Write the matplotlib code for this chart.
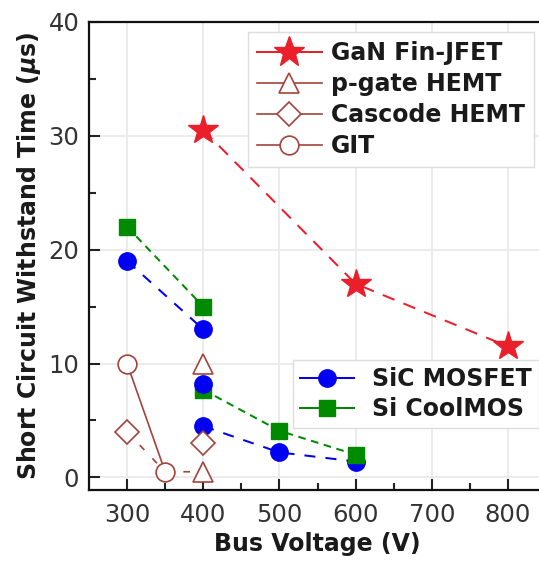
import matplotlib
matplotlib.use('Agg')
import matplotlib.pyplot as plt
from matplotlib.lines import Line2D

plt.rcParams['font.family'] = ['DejaVu Sans']
plt.rcParams['mathtext.fontset'] = 'custom'
plt.rcParams['mathtext.it'] = 'DejaVu Sans:bold:italic'
plt.rcParams['mathtext.rm'] = 'DejaVu Sans:bold'
plt.rcParams['mathtext.bf'] = 'DejaVu Sans:bold'

# ---------------- data ----------------
gan_x = [400, 600, 800]
gan_y = [30.5, 17.0, 11.5]
pgate_x = [400, 400]
pgate_y = [10.0, 0.5]
cascode_x = [300, 400]
cascode_y = [4.0, 3.0]
cascode_link_x = [300, 350, 400]
cascode_link_y = [4.0, 0.5, 0.5]
git_x = [300, 350]
git_y = [10.0, 0.5]
sic_x = [300, 400, 400, 400, 500, 600]
sic_y = [19.0, 13.0, 8.2, 4.5, 2.2, 1.4]
cool_x = [300, 400, 400, 500, 600]
cool_y = [22.0, 15.0, 7.7, 4.1, 2.0]
sic_runs = [[0, 1], [3, 4, 5]]
cool_runs = [[0, 1], [2, 3, 4]]
x_ticks = [300, 400, 500, 600, 700, 800]
y_ticks = [0, 10, 20, 30, 40]
labels_top = ['GaN Fin-JFET', 'p-gate HEMT', 'Cascode HEMT', 'GIT']
labels_bottom = ['SiC MOSFET', 'Si CoolMOS']

RED = '#ea1f2a'
BROWN = '#a3433a'
BLUE = '#0000f2'
GREEN = '#008a00'

W, H = 539, 562
fig = plt.figure(figsize=(W / 100, H / 100), dpi=100)
ax = fig.add_axes([89 / W, 72 / H, 457 / W, (490 - 21.7) / H])

lw = 1.45
mew = 1.2
# lines
ax.plot(gan_x, gan_y, color=RED, lw=lw, ls=(0, (6.3, 4.8)), zorder=2)
ax.plot(git_x, git_y, color=BROWN, lw=1.2, ls='-', zorder=2)
ax.plot(cascode_link_x, cascode_link_y, color=BROWN, lw=1.2, ls=(0, (4, 7)), zorder=2)
for run in sic_runs:
    ax.plot([sic_x[i] for i in run], [sic_y[i] for i in run], color=BLUE, lw=lw,
            ls=(0, (5.5, 5)), zorder=2)
for run in cool_runs:
    ax.plot([cool_x[i] for i in run], [cool_y[i] for i in run], color=GREEN, lw=lw,
            ls=(0, (3.8, 2.8)), zorder=2)

# markers
ax.plot(gan_x, gan_y, ls='none', marker='*', ms=22, color=RED, mec=RED, zorder=6)
ax.plot(pgate_x, pgate_y, ls='none', marker='^', ms=15, mfc='white', mec=BROWN, mew=mew, zorder=6)
ax.plot(cascode_x, cascode_y, ls='none', marker='D', ms=12, mfc='white', mec=BROWN, mew=mew, zorder=6)
ax.plot(git_x, git_y, ls='none', marker='o', ms=13.5, mfc='white', mec=BROWN, mew=mew, zorder=6)
ax.plot([sic_x[i] for i in (0, 1, 3, 4, 5)], [sic_y[i] for i in (0, 1, 3, 4, 5)],
        ls='none', marker='o', ms=12.5, color=BLUE, zorder=3)
ax.plot(cool_x, cool_y, ls='none', marker='s', ms=11.5, color=GREEN, zorder=4)
ax.plot([sic_x[2]], [sic_y[2]], ls='none', marker='o', ms=12.5, color=BLUE, zorder=5)

ax.set_xlim(250, 850)
ax.set_ylim(-1.1, 40)
ax.set_xticks(x_ticks)
ax.set_yticks(y_ticks)
ax.set_xticks([350, 450, 550, 650, 750], minor=True)
ax.set_yticks([5, 15, 25, 35], minor=True)
ax.tick_params(which='both', direction='in', colors='#222222', width=1.5,
               labelsize=17.5, labelcolor='#333333')
ax.tick_params(which='major', length=8)
ax.tick_params(which='minor', length=5)
ax.tick_params(axis='x', pad=9)
ax.tick_params(axis='y', pad=7)
ax.grid(True, which='major', color='#e9e9e9', lw=1.3, zorder=0)
ax.set_axisbelow(True)
for s in ax.spines.values():
    s.set_linewidth(1.6)
    s.set_color('#111111')

ax.set_xlabel('Bus Voltage (V)', fontsize=17, fontweight='bold', color='#1a1a1a', labelpad=4)
ax.set_ylabel(r'Short Circuit Withstand Time ($\mu$s)', fontsize=17, fontweight='bold',
              color='#1a1a1a', labelpad=4)

# legends
h_top = [
    Line2D([], [], color=RED, lw=lw, marker='*', ms=23),
    Line2D([], [], color=BROWN, lw=1.2, marker='^', ms=15, mfc='white', mec=BROWN, mew=mew),
    Line2D([], [], color=BROWN, lw=1.2, marker='D', ms=12, mfc='white', mec=BROWN, mew=mew),
    Line2D([], [], color=BROWN, lw=1.2, marker='o', ms=13.5, mfc='white', mec=BROWN, mew=mew),
]
leg1 = ax.legend(h_top, labels_top, loc='upper left', bbox_to_anchor=(248 / W, 1 - 32 / H),
                 bbox_transform=fig.transFigure, borderaxespad=0, frameon=True, fancybox=False,
                 edgecolor='#dddddd', framealpha=1, handlelength=2.75, handletextpad=0.4,
                 labelspacing=0.3, borderpad=0.38, prop={'weight': 'bold', 'size': 17})
leg1.get_frame().set_linewidth(1.0)
for t in leg1.get_texts():
    t.set_color('#1a1a1a')
ax.add_artist(leg1)

h_bot = [
    Line2D([], [], color=BLUE, lw=lw, marker='o', ms=12.5),
    Line2D([], [], color=GREEN, lw=lw, marker='s', ms=11.5),
]
leg2 = ax.legend(h_bot, labels_bottom, loc='upper left', bbox_to_anchor=(293 / W, 1 - 360 / H),
                 bbox_transform=fig.transFigure, borderaxespad=0, frameon=True, fancybox=False,
                 edgecolor='#dddddd', framealpha=1, handlelength=2.3, handletextpad=0.75,
                 labelspacing=0.25, borderpad=0.3, prop={'weight': 'bold', 'size': 17})
leg2.get_frame().set_linewidth(1.0)
for t in leg2.get_texts():
    t.set_color('#1a1a1a')

fig.savefig('out.png', dpi=100)
